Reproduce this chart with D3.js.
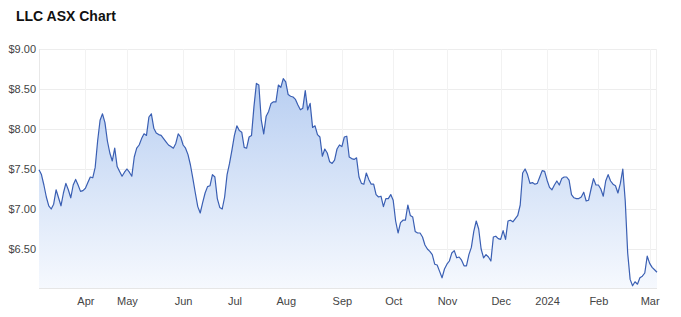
<!DOCTYPE html>
<html><head><meta charset="utf-8">
<script src="https://cdn.jsdelivr.net/npm/d3@7"></script>
<style>
html,body{margin:0;padding:0;background:#fff;}
svg{display:block;font-family:"Liberation Sans",Arial,sans-serif;}
</style></head>
<body>
<svg id="chart" width="681" height="317"></svg>
<script>
// Daily closing prices (ASX trading days), Mar 2023 - Mar 2024
const prices = [
7.49,7.43,7.30,7.15,7.04,7.00,7.06,7.24,7.14,7.04,
7.20,7.32,7.24,7.14,7.30,7.37,7.30,7.22,7.23,7.26,
7.33,7.40,7.39,7.52,7.85,8.11,8.19,8.08,7.85,7.70,
7.60,7.76,7.53,7.47,7.41,7.46,7.50,7.46,7.41,7.65,
7.76,7.80,7.88,7.94,7.92,8.15,8.19,8.01,7.95,7.93,
7.92,7.88,7.84,7.80,7.78,7.76,7.82,7.94,7.90,7.80,
7.76,7.68,7.55,7.38,7.20,7.03,6.95,7.08,7.20,7.28,
7.29,7.43,7.40,7.13,7.02,7.00,7.15,7.43,7.57,7.74,
7.92,8.04,7.98,7.96,7.77,7.76,7.90,7.92,8.28,8.57,
8.55,8.11,7.94,8.16,8.22,8.32,8.34,8.34,8.55,8.52,
8.63,8.59,8.43,8.41,8.40,8.37,8.30,8.24,8.26,8.48,
8.24,8.32,8.02,8.04,7.93,7.90,7.66,7.75,7.70,7.59,
7.57,7.61,7.75,7.80,7.78,7.90,7.91,7.65,7.63,7.62,
7.64,7.40,7.32,7.31,7.45,7.37,7.31,7.31,7.18,7.15,
7.16,7.03,7.13,7.13,7.18,7.11,6.85,6.70,6.83,6.86,
6.86,7.05,6.92,6.90,6.72,6.70,6.70,6.65,6.55,6.50,
6.47,6.43,6.31,6.30,6.22,6.14,6.25,6.31,6.35,6.45,
6.48,6.39,6.40,6.36,6.29,6.29,6.43,6.52,6.72,6.85,
6.75,6.50,6.39,6.43,6.40,6.35,6.65,6.66,6.63,6.62,
6.73,6.62,6.85,6.86,6.84,6.88,6.92,7.05,7.45,7.50,
7.43,7.32,7.33,7.31,7.32,7.40,7.48,7.47,7.36,7.27,
7.24,7.30,7.35,7.30,7.38,7.40,7.40,7.36,7.18,7.14,
7.13,7.13,7.15,7.21,7.10,7.11,7.25,7.38,7.30,7.30,
7.25,7.16,7.35,7.43,7.35,7.31,7.29,7.20,7.32,7.50,
7.10,6.45,6.12,6.04,6.09,6.06,6.14,6.16,6.20,6.41,
6.32,6.27,6.24,6.21
];
// Month tick labels and the trading-day index where each month starts
const tickLabels = ["Apr","May","Jun","Jul","Aug","Sep","Oct","Nov","Dec","2024","Feb","Mar"];
const tickIndex  = [19,36,59,80,101,124,145,167,189,208,229,250];
const yTicks = [6.5,7.0,7.5,8.0,8.5,9.0];

const svg = d3.select("#chart");
const L = 39, R = 657, T = 49, B = 289;

const x = d3.scaleLinear().domain([0, prices.length - 1]).range([L, R]);
const y = d3.scaleLinear().domain([6, 9]).range([B, T]);

// title
svg.append("text").attr("x", 16).attr("y", 21)
  .attr("font-size", 14).attr("font-weight", "bold").attr("fill", "#111")
  .text("LLC ASX Chart");

// gradient
const defs = svg.append("defs");
const grad = defs.append("linearGradient").attr("id", "g")
  .attr("gradientUnits", "userSpaceOnUse")
  .attr("x1", 0).attr("y1", y(8.7)).attr("x2", 0).attr("y2", B);
grad.append("stop").attr("offset", "0%").attr("stop-color", "#b6cdf1");
grad.append("stop").attr("offset", "100%").attr("stop-color", "#f6f9fe");

// gridlines
const grid = svg.append("g");
grid.selectAll(".hg").data(yTicks).join("line")
  .attr("x1", L).attr("x2", R)
  .attr("y1", d => Math.round(y(d)) + 0.5).attr("y2", d => Math.round(y(d)) + 0.5)
  .attr("stroke", "#ededed").attr("stroke-width", 1);
grid.selectAll(".vg").data(tickIndex).join("line")
  .attr("x1", d => Math.round(x(d)) + 0.5).attr("x2", d => Math.round(x(d)) + 0.5)
  .attr("y1", T).attr("y2", B)
  .attr("stroke", "#f2f2f2").attr("stroke-width", 1);
// plot frame lines
grid.append("line").attr("x1", L + 0.5).attr("x2", L + 0.5).attr("y1", T).attr("y2", B - 0.5)
  .attr("stroke", "#e8e8e8");
grid.append("line").attr("x1", R - 0.5).attr("x2", R - 0.5).attr("y1", T).attr("y2", B - 0.5)
  .attr("stroke", "#f0f0f0");
grid.append("line").attr("x1", L).attr("x2", R).attr("y1", B - 0.5).attr("y2", B - 0.5)
  .attr("stroke", "#e6e6e6");

// area + line
const area = d3.area().x((d, i) => x(i)).y0(B - 1).y1(d => y(d));
const line = d3.line().x((d, i) => x(i)).y(d => y(d));
svg.append("path").datum(prices).attr("d", area).attr("fill", "url(#g)");
svg.append("path").datum(prices).attr("d", line)
  .attr("fill", "none").attr("stroke", "#3a5fb3").attr("stroke-width", 1.2)
  .attr("stroke-linejoin", "round");

// y axis labels
const yAxis = d3.axisLeft(y).tickValues(yTicks).tickSize(0).tickPadding(3)
  .tickFormat(d => "$" + d3.format(".2f")(d));
const ya = svg.append("g").attr("transform", `translate(${L},0)`).call(yAxis);
ya.select(".domain").remove();
ya.selectAll("text").attr("font-size", 11).attr("fill", "#444")
  .attr("font-family", "Liberation Sans, Arial, sans-serif");

// x axis labels
const xAxis = d3.axisBottom(x).tickValues(tickIndex).tickSize(0).tickPadding(8)
  .tickFormat((d, i) => tickLabels[i]);
const xa = svg.append("g").attr("transform", `translate(0,${B})`).call(xAxis);
xa.select(".domain").remove();
xa.selectAll("text").attr("font-size", 11).attr("fill", "#444")
  .attr("font-family", "Liberation Sans, Arial, sans-serif");
</script>
</body></html>
